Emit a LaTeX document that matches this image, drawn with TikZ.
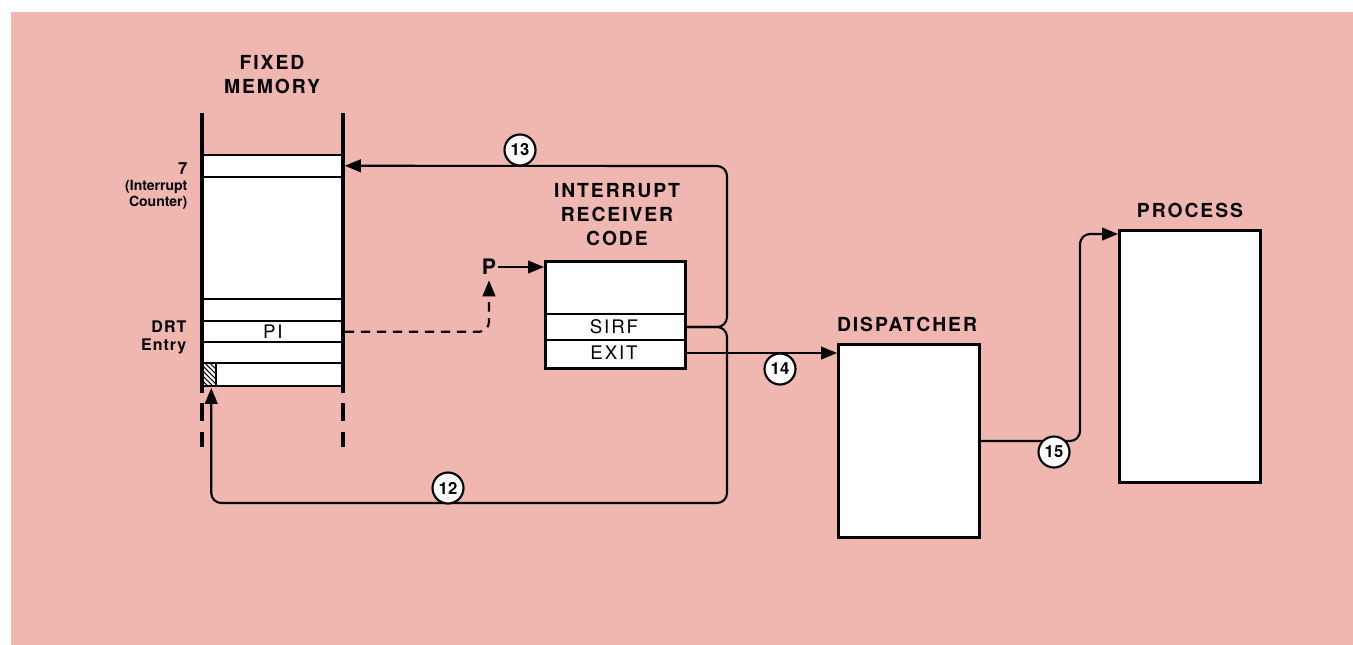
\documentclass[tikz,border=0pt]{standalone}
\usepackage{fontspec}
\setmainfont{TeX Gyre Heros}
\usetikzlibrary{arrows.meta}
\definecolor{bgpink}{RGB}{240,182,176}
\begin{document}
\begin{tikzpicture}[x=0.75pt,y=-0.75pt,
  conn/.style={line width=1.6pt},
  tip/.style={-{Triangle[length=12pt,width=9.5pt]}},
  box/.style={draw, line width=2.3pt, fill=white, inner sep=0pt, anchor=north west},
  cellrow/.style={inner sep=0pt, minimum width=141*0.75pt, minimum height=21*0.75pt},
  title/.style={font=\fontsize{14.5}{18}\selectfont\bfseries\addfontfeature{LetterSpace=10}, align=center},
  num/.style={circle, draw, line width=1.6pt, fill=white, inner sep=0pt, minimum size=31*0.75pt, font=\fontsize{12.5}{13}\selectfont\bfseries},
  cell/.style={font=\fontsize{14}{15}\selectfont\addfontfeature{LetterSpace=10}},
  side/.style={anchor=east, font=\fontsize{10.5}{12}\selectfont\bfseries},
  memline/.style={line width=2.5pt}
]
\useasboundingbox (0,0) rectangle (1353,644);
\fill[white] (-5,-5) rectangle (1360,650);
\fill[bgpink] (11,12) rectangle (1360,650);

% ---------- fixed memory ----------
\fill[white] (202,155) rectangle (343,386);
\foreach \y in {155,177,299,321,342,363,386} \draw[line width=1.6pt] (202,\y) -- (343,\y);
\begin{scope}
  \clip (202,363) rectangle (216,386);
  \foreach \k in {170,175,...,225} \draw[line width=0.8pt] (\k,363) -- (\k+23,386);
\end{scope}
\draw[line width=1.2pt] (216,363) -- (216,386);
\draw[memline] (202,113) -- (202,393);
\draw[memline] (343,113) -- (343,393);
\draw[memline] (202,403) -- (202,421) (202,432) -- (202,447);
\draw[memline] (343,403) -- (343,421) (343,432) -- (343,447);

\node[cellrow, anchor=north west] (row7) at (202,155) {};
\node[cellrow, anchor=north west, cell] (pirow) at (202,321) {PI};
\node[inner sep=0pt, minimum width=14*0.75pt, minimum height=23*0.75pt, anchor=north west] (hatch) at (204,363) {};

\node[title] (fmtitle) at (272,75) {FIXED\\MEMORY};
\node[side, font=\fontsize{12.5}{13}\selectfont\bfseries] (l7) at (192,169) {7};
\node[side] (lint) at (192,187) {(Interrupt};
\node[side] (lcnt) at (192,203) {Counter)};
\node[side, font=\fontsize{12}{13}\selectfont\bfseries\addfontfeature{LetterSpace=6}] (ldrt) at (191,327) {DRT};
\node[side, font=\fontsize{12}{13}\selectfont\bfseries\addfontfeature{LetterSpace=6}] (lentry) at (191,346) {Entry};

% ---------- interrupt receiver code ----------
\node[title] (irctitle) at (617,215) {INTERRUPT\\RECEIVER\\CODE};
\node[box, minimum width=140*0.75pt, minimum height=107*0.75pt] (irc) at (544,260) {};
\draw[line width=1.6pt] (544,314) -- (684,314);
\draw[line width=1.6pt] (544,340) -- (684,340);
\node[inner sep=0pt, minimum width=140*0.75pt, minimum height=26*0.75pt, cell] (sirf) at (614,327) {SIRF};
\node[inner sep=0pt, minimum width=140*0.75pt, minimum height=26*0.75pt, cell] (exit) at (614,353) {EXIT};

\node[font=\fontsize{16}{17}\selectfont\bfseries, inner sep=1pt] (P) at (489,267) {P};

% ---------- dispatcher / process ----------
\node[title] (disptitle) at (907,324) {DISPATCHER};
\node[box, minimum width=141*0.75pt, minimum height=193*0.75pt] (disp) at (837,343) {};
\node[title] (proctitle) at (1190,210) {PROCESS};
\node[box, minimum width=141*0.75pt, minimum height=252*0.75pt] (proc) at (1118,229) {};

\coordinate (c13) at (727,166);
\coordinate (c12) at (727,503);
\coordinate (c15) at (1080,234);

% ---------- connectors ----------
\draw[conn, tip, rounded corners=10*0.75pt] (sirf.east) -| (c13) -- ([xshift=1pt]row7.east);
\draw[conn, tip, rounded corners=10*0.75pt] (sirf.east) -| (c12) -| ([yshift=-1pt]hatch.south);
\draw[conn, tip] (exit.east) -- (disp.west |- exit.east);
\draw[conn, tip, rounded corners=10*0.75pt] (disp.east) -| (c15) -- (proc.north west |- c15);
\draw[conn, tip] (P.east) -- (irc.west |- P.east);
\draw[conn, tip, dashed, dash pattern=on 7pt off 5pt, rounded corners=10*0.75pt] ([xshift=1pt]pirow.east) -| ([yshift=-3pt]P.south);

% ---------- step numbers ----------
\node[num] (n13) at (520,150) {13};
\node[num] (n14) at (780,369) {14};
\node[num] (n15) at (1054,452) {15};
\node[num] (n12) at (448,488) {12};
\end{tikzpicture}
\end{document}
